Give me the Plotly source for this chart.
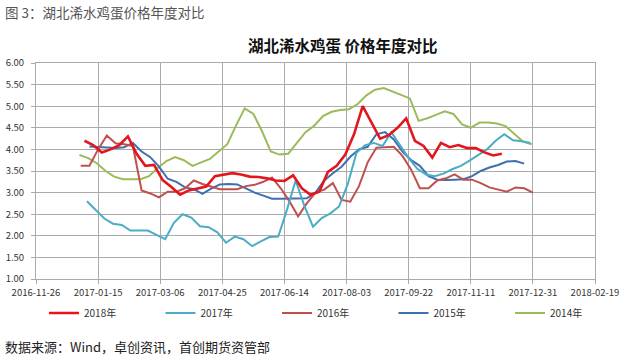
import pandas as pd
import plotly.graph_objects as go

# ---- data (weekly prices, yuan/jin) ----
years = ["2018年", "2017年", "2016年", "2015年", "2014年"]
start_dates = ["2017-01-04", "2017-01-06", "2017-01-01", "2017-01-08", "2016-12-31"]

v2018 = [4.2, 4.1, 3.93, 4.0, 4.1, 4.3, 3.9, 3.62, 3.64, 3.29, 3.13, 2.95, 3.05,
         3.1, 3.14, 3.38, 3.42, 3.45, 3.42, 3.37, 3.36, 3.33, 3.28, 3.27, 3.4, 3.1,
         2.95, 3.02, 3.48, 3.62, 3.88, 4.35, 5.0, 4.62, 4.25, 4.33, 4.5, 4.72, 4.2,
         4.08, 3.81, 4.15, 4.05, 4.1, 4.03, 4.03, 3.93, 3.86, 3.9]
v2017 = [2.8, 2.6, 2.4, 2.28, 2.25, 2.12, 2.12, 2.12, 2.02, 1.92, 2.3, 2.5, 2.42,
         2.22, 2.2, 2.08, 1.84, 1.98, 1.92, 1.76, 1.87, 1.97, 1.98, 2.6, 3.28, 2.7,
         2.21, 2.41, 2.52, 2.68, 3.2, 3.92, 4.1, 4.15, 4.08, 4.4, 4.1, 3.8, 3.55,
         3.42, 3.38, 3.44, 3.54, 3.62, 3.74, 3.88, 4.0, 4.2, 4.35, 4.21, 4.19, 4.15]
v2016 = [3.62, 3.62, 4.0, 4.32, 4.14, 4.12, 4.08, 3.05, 2.98, 2.89, 3.02, 3.02, 3.1,
         3.28, 3.2, 3.14, 3.08, 3.08, 3.08, 3.15, 3.18, 3.25, 3.35, 3.1, 2.8, 2.45,
         2.75, 3.0, 3.07, 3.22, 2.83, 2.79, 3.15, 3.7, 4.04, 4.05, 4.06, 3.85, 3.53,
         3.1, 3.1, 3.28, 3.33, 3.42, 3.3, 3.3, 3.22, 3.12, 3.07, 3.02, 3.12, 3.1, 3.0]
v2015 = [4.07, 4.06, 4.04, 4.03, 4.05, 4.15, 3.95, 3.82, 3.6, 3.32, 3.25, 3.12, 3.08,
         2.97, 3.09, 3.19, 3.2, 3.19, 3.1, 3.0, 2.93, 2.86, 2.86, 2.86, 2.86, 2.87,
         3.0, 3.28, 3.45, 3.6, 3.83, 4.0, 4.06, 4.35, 4.4, 4.23, 3.95, 3.75, 3.62,
         3.38, 3.3, 3.29, 3.3, 3.31, 3.38, 3.5, 3.58, 3.64, 3.72, 3.73, 3.67]
v2014 = [3.87, 3.8, 3.68, 3.5, 3.37, 3.31, 3.31, 3.31, 3.38, 3.57, 3.73, 3.82, 3.75,
         3.62, 3.7, 3.78, 3.95, 4.12, 4.55, 4.95, 4.82, 4.42, 3.95, 3.88, 3.9, 4.15,
         4.4, 4.55, 4.77, 4.87, 4.91, 4.93, 5.05, 5.25, 5.38, 5.42, 5.34, 5.26, 5.18,
         4.66, 4.72, 4.8, 4.88, 4.82, 4.58, 4.5, 4.62, 4.62, 4.6, 4.54, 4.35, 4.18, 4.12]

series_values = [v2018, v2017, v2016, v2015, v2014]
colors = ["#E3161E", "#4BACC6", "#C0504D", "#3F6FAE", "#9BBB59"]
widths = [2.6, 2.0, 2.0, 2.0, 2.0]

x_ticks = ["2016-11-26", "2017-01-15", "2017-03-06", "2017-04-25", "2017-06-14",
           "2017-08-03", "2017-09-22", "2017-11-11", "2017-12-31", "2018-02-19"]
y_ticks = [1.0, 1.5, 2.0, 2.5, 3.0, 3.5, 4.0, 4.5, 5.0, 5.5, 6.0]

W, H = 640, 355
PW, PH = 559, 216  # plot area size in px
font_family = "Noto Sans CJK SC, Liberation Sans, sans-serif"
grid = "#ABABAB"

legend_ids = ["legend", "legend2", "legend3", "legend4", "legend5"]

fig = go.Figure()
# draw older years first so 2018 is on top; each year has its own legend box
order = [4, 3, 2, 1, 0]
for i in order:
    dates = pd.date_range(start_dates[i], periods=len(series_values[i]), freq="7D")
    fig.add_trace(go.Scatter(
        x=dates, y=series_values[i], mode="lines", name=years[i],
        line=dict(color=colors[i], width=widths[i]),
        legend=legend_ids[i],
    ))

legend_layout = {}
for k, lid in enumerate(legend_ids):
    left_px = 44 + 116.5 * k
    legend_layout[lid] = dict(
        orientation="h", x=(left_px - 36) / PW, y=-(313 - 279) / PH,
        xanchor="left", yanchor="middle",
        font=dict(size=10, color="#333333"), bgcolor="rgba(0,0,0,0)",
    )

fig.update_layout(
    width=W, height=H,
    margin=dict(l=36, r=45, t=63, b=76, autoexpand=False),
    paper_bgcolor="white", plot_bgcolor="white",
    font=dict(family=font_family, size=10, color="#333333"),
    showlegend=True,
    xaxis=dict(
        type="date", range=[x_ticks[0], x_ticks[-1]],
        tickvals=x_ticks, ticktext=x_ticks, tickangle=0, automargin=False,
        showgrid=True, gridcolor=grid, gridwidth=1,
        showline=True, linecolor=grid, mirror=True,
        ticks="outside", ticklen=4, tickcolor=grid, ticklabelstandoff=1,
        tickfont=dict(size=9.5, color="#333333"), zeroline=False,
    ),
    yaxis=dict(
        range=[1, 6], tickvals=y_ticks, tickformat=".2f", automargin=False,
        showgrid=True, gridcolor=grid, gridwidth=1,
        showline=True, linecolor=grid, mirror=True,
        ticks="outside", ticklen=4, tickcolor=grid, ticklabelstandoff=5,
        tickfont=dict(size=9.5, color="#333333"), zeroline=False,
    ),
    **legend_layout,
)

fig.add_annotation(text="图 3：湖北浠水鸡蛋价格年度对比", xref="paper", yref="paper",
                   x=-33 / PW, y=1 + (63 - 12) / PH, xanchor="left", yanchor="middle",
                   showarrow=False, font=dict(size=13.5, color="#555555"))
fig.add_annotation(text="<b>湖北浠水鸡蛋 价格年度对比</b>", xref="paper", yref="paper",
                   x=(343 - 36) / PW, y=1 + (63 - 45) / PH, xanchor="center", yanchor="middle",
                   showarrow=False, font=dict(size=15.5, color="#111111"))
fig.add_annotation(text="数据来源：Wind，卓创资讯，首创期货资管部", xref="paper", yref="paper",
                   x=-33 / PW, y=-(346 - 279) / PH, xanchor="left", yanchor="middle",
                   showarrow=False, font=dict(size=13, color="#222222"))

fig.write_html("out.html", config={"displayModeBar": False},
               post_script="document.body.style.margin='0';")
